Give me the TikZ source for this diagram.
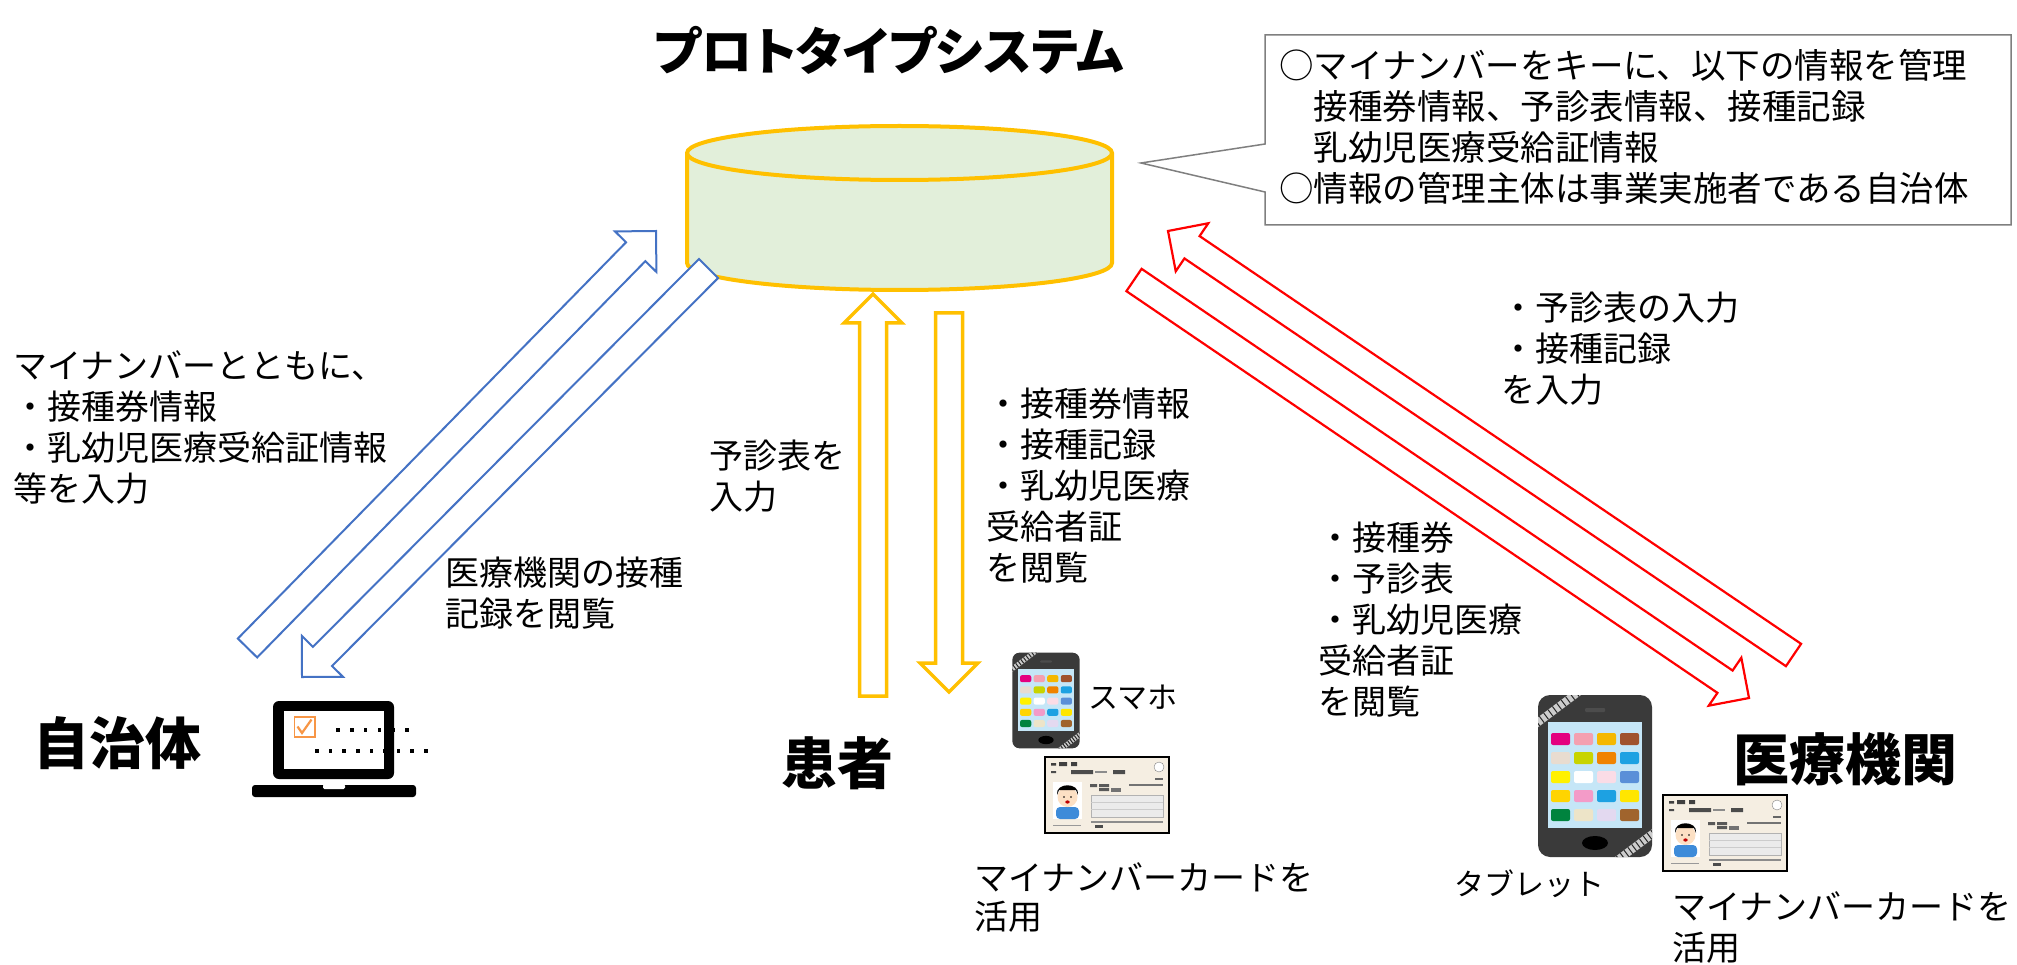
\documentclass[tikz,border=0pt]{standalone}
\usepackage{fontspec}
\setmainfont{Noto Sans CJK JP}
\newfontfamily\paltfont[RawFeature=+palt]{Noto Sans CJK JP}
\usetikzlibrary{calc}

\definecolor{dbline}{HTML}{FFC000}
\definecolor{dbfill}{HTML}{E2EFDA}
\definecolor{jblue}{HTML}{4472C4}
\definecolor{jred}{HTML}{FF0000}
\definecolor{memoline}{HTML}{7F7F7F}
\definecolor{chkorange}{HTML}{F79646}
\definecolor{hsbody}{HTML}{3A3A3A}
\definecolor{hsscreen}{HTML}{C5E6F7}
\definecolor{cardbg}{HTML}{F5EEE2}
\definecolor{skin}{HTML}{FCE0C4}
\definecolor{shirt}{HTML}{3D8BD9}

\tikzset{
  txt/.style = {font=\fontsize{34}{41}\selectfont, align=left, anchor=west, inner sep=0pt},
  ttl/.style = {font=\bfseries\fontsize{56}{64}\selectfont, inner sep=0pt},
  bluearrow/.style = {draw=jblue, line width=2pt, fill=white},
  redarrow/.style  = {draw=jred, line width=2.2pt, fill=white},
  yelarrow/.style  = {draw=dbline, line width=3.5pt, fill=white},
  hs corner/.store in=\hscorner, hs corner=12pt,
  handset/.pic = {
    \fill[hsbody, rounded corners=\hscorner] (-57,-81) rectangle (57,81);
    \begin{scope}
      \clip[rounded corners=\hscorner] (-57,-81) rectangle (57,81);
      \fill[gray!40] (-64.4,-53.2) -- (-16.4,-89.2) -- (-11.6,-82.8) -- (-59.6,-46.8) -- cycle;
      \fill[gray!40] (17.6,82.8) -- (59.6,51.2) -- (64.4,57.6) -- (22.4,89.2) -- cycle;
      \foreach \t in {0,...,11} {
        \draw[gray!30!black, line width=1pt] ($(-62,-50)!\t/11!(-14,-86)$) +(-2.4,-3.2) -- +(2.4,3.2);
        \draw[gray!30!black, line width=1pt] ($(20,86)!\t/11!(62,54.4)$) +(-2.4,-3.2) -- +(2.4,3.2);
      }
    \end{scope}
    \fill[gray!60!black, rounded corners=1pt] (-10,-68) rectangle (10,-64);
    \fill[hsscreen] (-47,-54) rectangle (47,52);
    \foreach \hue [count=\i from 0] in {E4007F,F4A0B0,F5B800,A0522D,
                                       E8DCD0,C8D400,F08300,1DA1E2,
                                       FFF100,FFFFFF,FADCE6,5A8FD8,
                                       FFD400,F39BC8,1DA1E2,FFE600,
                                       00833E,EDE4C8,E3D9F0,A0642D} {
      \pgfmathtruncatemacro\icol{mod(\i,4)}
      \pgfmathtruncatemacro\irow{div(\i,4)}
      \definecolor{appc}{HTML}{\hue}
      \fill[appc, rounded corners=2pt] (-44+23*\icol,-43+19*\irow) rectangle ++(19,12);
    }
    \fill[black] (0,67) ellipse [x radius=13, y radius=7];
  },
  idcard/.pic = {
    \filldraw[line width=2.5pt, fill=cardbg] (0,0) rectangle (124,76);
    \fill[black!75] (6,6) rectangle (11,8.5) (14,5) rectangle (22,9) (26,5) rectangle (32,9);
    \fill[black!70] (6,14) rectangle (11,16) (26,13) rectangle (48,17) (68,13) rectangle (80,17);
    \fill[black!45] (50,14) rectangle (62,16);
    \draw[black!50, fill=white] (114,10) circle [radius=5];
    \fill[black!60] (110,21) rectangle (118,23);
    \fill[white] (8,25) rectangle (37,62);
    \fill[shirt, rounded corners=4pt] (11,50) rectangle (34,62);
    \fill[skin] (22.5,40) circle [radius=10];
    \fill[black] (12,38) .. controls (10,25) and (35,25) .. (33,38) -- (31,33) -- (14,33) -- cycle;
    \fill[black] (19,40) circle [radius=0.9] (26,40) circle [radius=0.9];
    \fill[red!75!black] (22.5,45) ellipse [x radius=2.2, y radius=1.6];
    \fill[black!65] (45,27) rectangle (52,30) (54,27) rectangle (64,30) (54,31) rectangle (64,34);
    \fill[black!55] (66,31) rectangle (76,35);
    \fill[black!55] (84,27) rectangle (118,29);
    \filldraw[draw=black!30, fill=white!92!black] (46,38) rectangle (118,60);
    \draw[black!20] (46,45) -- (118,45) (46,52) -- (118,52);
    \fill[black!45] (46,64) rectangle (118,66);
    \fill[black!70] (50,68) rectangle (58,71);
    \fill[black!40] (8,68) rectangle (36,69);
  }
}

\newcommand{\shaftw}{13.5pt}
\newcommand{\headw}{29pt}
\newcommand{\headlen}{29pt}
% hollow block arrow from #2 to #3
\newcommand{\fatarrow}[3][]{%
  \coordinate (fat-h) at ($(#3)!\headlen!(#2)$);
  \draw[#1] ($(#2)!\shaftw!90:(#3)$) -- ($(fat-h)!\shaftw!90:(#3)$)
    -- ($(fat-h)!\headw!90:(#3)$) -- (#3)
    -- ($(fat-h)!\headw!-90:(#3)$) -- ($(fat-h)!\shaftw!-90:(#3)$)
    -- ($(#2)!\shaftw!-90:(#3)$) -- cycle;}

\begin{document}
\begin{tikzpicture}[x=1pt, y=-1pt]
\useasboundingbox (0,0) rectangle (2017,965);

% database
\filldraw[draw=dbline, fill=dbfill, line width=4pt]
  (687,153) -- (687,263) arc[start angle=180, end angle=360, x radius=212.5pt, y radius=27pt]
  -- (1112,153) arc[start angle=0, end angle=180, x radius=212.5pt, y radius=27pt] -- cycle;
\draw[dbline, line width=4pt] (687,153) arc[start angle=180, end angle=360, x radius=212.5pt, y radius=27pt];
\coordinate (sys) at (899.5,208);

\node (proto) [ttl, font=\paltfont\bfseries\fontsize{51}{60}\selectfont] at (889,50) {プロトタイプシステム};
\node (jichi) [ttl] at (117,743) {自治体};
\node (kanja) [ttl] at (837,763) {患者};
\node (iryo)  [ttl] at (1845,759) {医療機関};

\coordinate (ja1) at (247.5,648);  \coordinate (ja2) at (656,231);
\coordinate (jb1) at (708.5,268.5); \coordinate (jb2) at (302,677);
\coordinate (ka1) at (873,696);    \coordinate (ka2) at (873,294);
\coordinate (kb1) at (949,313);    \coordinate (kb2) at (949,692);
\coordinate (ia1) at (1134,280);   \coordinate (ia2) at (1749,698);
\coordinate (ib1) at (1793.5,655); \coordinate (ib2) at (1168,231);

\fatarrow[bluearrow]{ja1}{ja2}
\fatarrow[bluearrow]{jb1}{jb2}
\fatarrow[yelarrow]{ka1}{ka2}
\fatarrow[yelarrow]{kb1}{kb2}
\fatarrow[redarrow]{ia1}{ia2}
\fatarrow[redarrow]{ib1}{ib2}

% note box
\draw[memoline, line width=1.5pt, fill=white] (1265,35) -- (2011,35) -- (2011,225)
  -- (1265,225) -- (1265,192) -- (1141,163) -- (1265,144) -- cycle;
\node (memo) [txt, font=\fontsize{34.5}{41}\selectfont] at (1279,127)
  {○マイナンバーをキーに、以下の情報を管理\\　接種券情報、予診表情報、接種記録\\　乳幼児医療受給証情報\\○情報の管理主体は事業実施者である自治体};

\node (jin)  [txt] at (13,428) {マイナンバーとともに、\\・接種券情報\\・乳幼児医療受給証情報\\等を入力};
\node (jout) [txt] at (445,593) {医療機関の接種\\記録を閲覧};
\node (kin)  [txt] at (709,476) {予診表を\\入力};
\node (kout) [txt] at (986,486) {・接種券情報\\・接種記録\\・乳幼児医療\\受給者証\\を閲覧};
\node (iin)  [txt] at (1501,349) {・予診表の入力\\・接種記録\\を入力};
\node (iout) [txt] at (1318,620) {・接種券\\・予診表\\・乳幼児医療\\受給者証\\を閲覧};

% laptop
\fill[rounded corners=6pt] (273,701) rectangle (394,779);
\fill[white] (284,711) rectangle (384,769);
\fill[rounded corners=3pt] (252,785) rectangle (416,797);
\fill[white, rounded corners=1.5pt] (323,784) rectangle (345,789);
\draw[chkorange, line width=1.5pt] (294.5,717) rectangle (315,737);
\draw[chkorange, line width=2.2pt] (297.5,726.5) -- (302,733) -- (311.5,719.5);
\foreach \k in {0,...,5}
  \fill[shift={(338+13.8*\k,730)}] (-1.8,-1.8) rectangle (1.8,1.8);
\foreach \k in {0,...,8}
  \fill[shift={(317+13.6*\k,751)}] (-1.8,-1.8) rectangle (1.8,1.8);

% phone, tablet and cards
\pic (phone) [scale=0.59, hs corner=7pt] at (1046,700.5) {handset};
\pic (tablet) at (1595,776) {handset};
\pic (card1) at (1045,757) {idcard};
\pic (card2) at (1663,795) {idcard};

\node (sumaho) [txt, font=\fontsize{30}{36}\selectfont] at (1088,697) {スマホ};
\node (tabl)   [txt, font=\fontsize{30}{36}\selectfont] at (1454,884) {タブレット};
\node (kcard)  [txt, font=\fontsize{34}{39}\selectfont] at (974,898) {マイナンバーカードを\\活用};
\node (icard)  [txt] at (1672,928) {マイナンバーカードを\\活用};

\end{tikzpicture}
\end{document}
